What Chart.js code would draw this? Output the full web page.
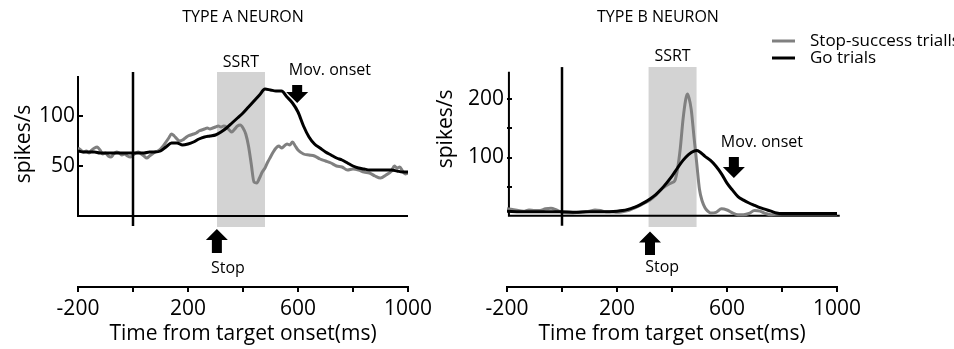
<!DOCTYPE html>
<html>
<head>
<meta charset="utf-8">
<script src="https://cdn.jsdelivr.net/npm/chart.js@4.4.1/dist/chart.umd.min.js"></script>
<style>
  html, body { margin: 0; padding: 0; background: #fff; }
  #wrap { position: relative; width: 954px; height: 349px; overflow: hidden; }
  canvas { position: absolute; top: 0; }
  #panelA { left: 0; }
  #panelB { left: 430px; }
</style>
</head>
<body>
<div id="wrap">
  <canvas id="panelA" width="440" height="349"></canvas>
  <canvas id="panelB" width="524" height="349"></canvas>
</div>
<script>
// shared x axis (ms from target onset)
var xTicks = [-200, 0, 200, 400, 600, 800, 1000];
var xLabels = ["-200", "", "200", "", "600", "", "1000"];

// ---- Type A neuron ----
var goTimeA = [-200,-180,-160,-140,-120,-100,-80,-60,-40,-20,0,20,40,60,80,100,120,140,160,180,200,220,240,260,280,300,320,340,360,380,400,420,440,460,480,500,520,540,560,580,600,620,640,660,680,700,720,740,760,780,800,820,840,860,880,900,920,940,960,980,1000];
var goRateA = [65,64,64,64,63,63,63,63,63,63, 63,63,63,64,64,65,69,73,73,71, 72,74,77,79,80,81,84,88,93,98, 103,109,115,121,127,126,125,125,119,113, 104,90,79,72,68,64,61,58,56,53, 50,48,47,46,46,46,46,46,45,44, 44];
var stopTimeA = [-200,-190,-180,-170,-160,-150,-140,-130,-120,-110,-100,-90,-80,-70,-60,-50,-40,-30,-20,-10,0,10,20,30,40,50,60,70,80,90,100,110,120,130,140,150,160,170,180,190,200,210,220,230,240,250,260,270,280,290,300,310,320,330,340,350,360,370,380,390,400,410,420,430,440,450,460,470,480,490,500,510,520,530,540,550,560,570,580,590,600,620,640,660,680,700,720,740,760,780,800,820,840,860,880,900,920,940,950,960,970,980,990,1000];
var stopRateA = [68,66,64,65,63,66,68,69,66,62, 63,60,59,62,64,63,61,62,60,59, 61,63,64,62,60,58,60,62,64,65, 67,70,74,78,82,80,77,75,76,78, 80,81,82,83,85,86,87,88,87,88, 89,90,89,90,89,86,84,87,90,91, 88,82,70,52,34,33,38,44,48,54, 59,64,68,70,68,70,72,71,74,70, 66,62,61,60,57,55,53,50,49,46, 47,46,44,43,40,38,41,45,50,48, 49,45,42,43];
var yTicksA = [50, 100];
var yLabelsA = ["50", "100"];
var ssrtA = [305, 480];
var stopSignalA = 305;
var movOnsetA = 597;

// ---- Type B neuron ----
var goTimeB = [-200,-150,-100,-50,0,50,100,150,200,220,240,260,280,300,320,340,360,380,400,420,440,460,480,490,500,520,540,560,580,600,620,640,660,680,700,720,740,760,780,800,850,900,950,1010];
var goRateB = [8,7,7,7,7,6,7,7,8,9, 11,14,18,23,29,36,45,56,68,82, 95,105,111,112,110,102,95,85,72,56, 44,33,27,22,18,14,11,8,5,4, 4,4,4,4];
var stopTimeB = [-200,-180,-160,-140,-120,-100,-80,-60,-40,-20,0,20,40,60,80,100,120,140,160,180,200,220,240,260,280,300,320,340,360,380,400,410,420,430,440,450,456,462,470,480,490,500,510,520,530,540,560,580,600,620,640,660,680,700,720,740,760,800,850,900,950,1000];
var stopRateB = [12,11,9,8,10,9,9,12,13,10, 6,5,5,6,7,8,10,9,7,7, 6,7,9,13,17,22,27,35,45,52, 57,60,80,115,165,200,209,202,182,135, 90,45,25,14,8,5,6,12,10,5, 2,2,4,9,8,4,2,3,3,3, 3,3];
var yTicksB = [50, 100, 150, 200];
var yLabelsB = ["", "100", "", "200"];
var ssrtB = [314, 490];
var stopSignalB = 320;
var movOnsetB = 625;

var FONT = "'Open Sans', 'Noto Sans', sans-serif";
var GRAY = '#808080';
var SHADE = '#d3d3d3';

function pts(xs, ys) {
  return xs.map(function (x, i) { return { x: x, y: ys[i] }; });
}

function drawArrow(ctx, x, yTail, yTip) {
  var dir = yTip > yTail ? 1 : -1;
  var head = 11, hw = 11, sw = 5;
  var yBase = yTip - dir * head;
  ctx.beginPath();
  ctx.moveTo(x - sw, yTail);
  ctx.lineTo(x + sw, yTail);
  ctx.lineTo(x + sw, yBase);
  ctx.lineTo(x + hw, yBase);
  ctx.lineTo(x, yTip);
  ctx.lineTo(x - hw, yBase);
  ctx.lineTo(x - sw, yBase);
  ctx.closePath();
  ctx.fill();
}

// text, arrows and legend drawn on top of the chart
var annotate = {
  id: 'annotate',
  afterDraw: function (chart, args, p) {
    var ctx = chart.ctx, xs = chart.scales.x, ys = chart.scales.y;
    ctx.save();
    ctx.fillStyle = '#000';
    ctx.textBaseline = 'middle';
    ctx.textAlign = 'center';

    ctx.font = '16px ' + FONT;
    ctx.fillText(p.title, xs.getPixelForValue(p.titleX), 17);

    ctx.fillText('SSRT', xs.getPixelForValue(p.ssrtLabel[0]), ys.getPixelForValue(p.ssrtLabel[1]));
    ctx.fillText('Mov. onset', xs.getPixelForValue(p.movLabel[0]), ys.getPixelForValue(p.movLabel[1]));
    ctx.fillText('Stop', xs.getPixelForValue(p.stopLabel[0]), ys.getPixelForValue(p.stopLabel[1]));

    drawArrow(ctx, xs.getPixelForValue(p.movArrow[0]), ys.getPixelForValue(p.movArrow[1]), ys.getPixelForValue(p.movArrow[2]));
    drawArrow(ctx, xs.getPixelForValue(p.stopArrow[0]), ys.getPixelForValue(p.stopArrow[1]), ys.getPixelForValue(p.stopArrow[2]));

    // y axis title
    ctx.save();
    ctx.translate(p.yTitleX, ys.getPixelForValue(p.yTitleAt));
    ctx.rotate(-Math.PI / 2);
    ctx.font = '21px ' + FONT;
    ctx.fillText('spikes/s', 0, 0);
    ctx.restore();

    if (p.legend) {
      var lg = p.legend;
      ctx.textAlign = 'left';
      ctx.font = '17px ' + FONT;
      ctx.lineWidth = 3;
      var items = [chart.data.datasets[1], chart.data.datasets[0]];
      items.forEach(function (ds, i) {
        var y = lg.y + i * lg.gap;
        ctx.strokeStyle = ds.borderColor;
        ctx.beginPath();
        ctx.moveTo(lg.x, y);
        ctx.lineTo(lg.x + 23, y);
        ctx.stroke();
        ctx.fillText(ds.label, lg.x + 38, y);
      });
    }
    ctx.restore();
  }
};

function makePanel(id, cfg) {
  return new Chart(document.getElementById(id), {
    type: 'line',
    data: {
      datasets: [
        { label: 'Go trials', data: pts(cfg.goTime, cfg.goRate), borderColor: '#000', borderWidth: 3,
          pointRadius: 0, cubicInterpolationMode: 'monotone', order: 1 },
        { label: 'Stop-success trialls', data: pts(cfg.stopTime, cfg.stopRate), borderColor: GRAY, borderWidth: 3,
          pointRadius: 0, cubicInterpolationMode: 'monotone', order: 2 },
        { label: 'axes', data: cfg.axisLine, borderColor: '#000', borderWidth: 2, pointRadius: 0, clip: false, order: 3 },
        { label: 'target', data: cfg.zeroLine, borderColor: '#000', borderWidth: 2.5, pointRadius: 0, clip: false, order: 0 },
        { label: 'SSRT', data: cfg.band, borderColor: 'rgba(0,0,0,0)', borderWidth: 0, pointRadius: 0,
          backgroundColor: SHADE, fill: { value: cfg.bandBottom }, order: 10 }
      ]
    },
    options: {
      responsive: false,
      animation: false,
      events: [],
      layout: { padding: { top: 56, right: cfg.padRight, left: 0, bottom: 0 } },
      plugins: {
        legend: { display: false },
        tooltip: { enabled: false },
        annotate: cfg.notes
      },
      scales: {
        x: {
          type: 'linear', min: -200, max: 1000,
          afterBuildTicks: function (s) { s.ticks = xTicks.map(function (v) { return { value: v }; }); },
          afterFit: function (s) { s.height = 62; },
          border: { display: true, color: '#000', width: 2 },
          grid: { display: true, drawOnChartArea: false, drawTicks: true, tickLength: 5, color: '#000', lineWidth: 2 },
          ticks: { padding: 4, color: '#000', maxRotation: 0, autoSkip: false, font: { family: FONT, size: 21 },
                   callback: function (v, i) { return xLabels[i]; } },
          title: { display: true, text: 'Time from target onset(ms)', color: '#000',
                   font: { family: FONT, size: 21 }, padding: { top: 0, bottom: 2 } }
        },
        y: {
          type: 'linear', min: cfg.yMin, max: cfg.yMax,
          afterBuildTicks: function (s) { s.ticks = cfg.yTicks.map(function (v) { return { value: v }; }); },
          afterFit: function (s) { s.width = cfg.yWidth; },
          border: { display: false },
          grid: { display: true, drawOnChartArea: false, drawTicks: true, tickLength: -5, color: '#000', lineWidth: 2 },
          ticks: { padding: 8, color: '#000', font: { family: FONT, size: 21 },
                   callback: function (v, i) { return cfg.yLabels[i]; } }
        }
      }
    },
    plugins: [annotate]
  });
}

makePanel('panelA', {
  goTime: goTimeA, goRate: goRateA, stopTime: stopTimeA, stopRate: stopRateA,
  yTicks: yTicksA, yLabels: yLabelsA, yMin: -71, yMax: 160, yWidth: 78, padRight: 32,
  axisLine: [{ x: -200, y: 140 }, { x: -200, y: 0 }, { x: 1000, y: 0 }],
  zeroLine: [{ x: 0, y: -10 }, { x: 0, y: 144 }],
  band: [{ x: ssrtA[0], y: 144 }, { x: ssrtA[1], y: 144 }], bandBottom: -11,
  notes: {
    title: 'TYPE A NEURON', titleX: 400,
    ssrtLabel: [(ssrtA[0] + ssrtA[1]) / 2, 154],
    movLabel: [716, 146], movArrow: [movOnsetA, 131, 113],
    stopLabel: [345, -52], stopArrow: [stopSignalA, -37, -13],
    yTitleX: 24, yTitleAt: 72
  }
});

makePanel('panelB', {
  goTime: goTimeB, goRate: goRateB, stopTime: stopTimeB, stopRate: stopRateB,
  yTicks: yTicksB, yLabels: yLabelsB, yMin: -122, yMax: 274, yWidth: 77, padRight: 117,
  axisLine: [{ x: -193, y: 247 }, { x: -193, y: 0 }, { x: 1010, y: 0 }],
  zeroLine: [{ x: 0, y: -17 }, { x: 0, y: 255 }],
  band: [{ x: ssrtB[0], y: 255 }, { x: ssrtB[1], y: 255 }], bandBottom: -19,
  notes: {
    title: 'TYPE B NEURON', titleX: 349,
    ssrtLabel: [(ssrtB[0] + ssrtB[1]) / 2, 273],
    movLabel: [727, 125], movArrow: [movOnsetB, 101, 65],
    stopLabel: [364, -89], stopArrow: [stopSignalB, -67, -27],
    yTitleX: 16, yTitleAt: 149,
    legend: { x: 342, y: 41, gap: 17 }
  }
});
</script>
</body>
</html>
